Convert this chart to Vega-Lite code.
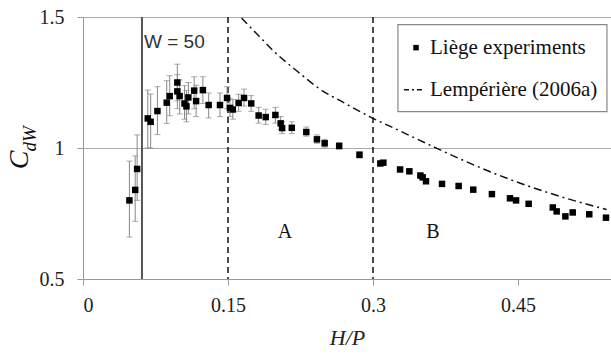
{
  "$schema": "https://vega.github.io/schema/vega-lite/v6.json",
  "width": 528,
  "height": 262,
  "autosize": "none",
  "padding": {"left": 83, "top": 17, "right": 0, "bottom": 79},
  "background": "white",
  "config": {
    "view": {"stroke": null},
    "font": "Liberation Serif, Times New Roman, serif",
    "axis": {
      "domainColor": "#999",
      "tickColor": "#999",
      "gridColor": "#aaa",
      "tickSize": 6
    }
  },
  "datasets": {
    "pts": [
      {"x": 0.048, "y": 0.80, "lo": 0.66, "hi": 0.95},
      {"x": 0.054, "y": 0.84, "lo": 0.72, "hi": 0.97},
      {"x": 0.056, "y": 0.92, "lo": 0.80, "hi": 1.05},
      {"x": 0.067, "y": 1.113, "lo": 1.0, "hi": 1.221},
      {"x": 0.070, "y": 1.10, "lo": 1.0, "hi": 1.206},
      {"x": 0.077, "y": 1.141, "lo": 1.051, "hi": 1.234},
      {"x": 0.0866, "y": 1.173, "lo": 1.094, "hi": 1.257},
      {"x": 0.0897, "y": 1.198, "lo": 1.123, "hi": 1.276},
      {"x": 0.0976, "y": 1.25, "lo": 1.18, "hi": 1.32},
      {"x": 0.0976, "y": 1.216, "lo": 1.15, "hi": 1.28},
      {"x": 0.100, "y": 1.198, "lo": 1.13, "hi": 1.26},
      {"x": 0.105, "y": 1.17, "lo": 1.11, "hi": 1.238},
      {"x": 0.107, "y": 1.159, "lo": 1.10, "hi": 1.22},
      {"x": 0.109, "y": 1.193, "lo": 1.13, "hi": 1.25},
      {"x": 0.115, "y": 1.219, "lo": 1.15, "hi": 1.272},
      {"x": 0.117, "y": 1.179, "lo": 1.12, "hi": 1.24},
      {"x": 0.124, "y": 1.221, "lo": 1.17, "hi": 1.272},
      {"x": 0.130, "y": 1.164, "lo": 1.115, "hi": 1.21},
      {"x": 0.1417, "y": 1.164, "lo": 1.12, "hi": 1.21},
      {"x": 0.149, "y": 1.191, "lo": 1.15, "hi": 1.234},
      {"x": 0.152, "y": 1.153, "lo": 1.12, "hi": 1.19},
      {"x": 0.155, "y": 1.147, "lo": 1.11, "hi": 1.185},
      {"x": 0.161, "y": 1.172, "lo": 1.14, "hi": 1.205},
      {"x": 0.1666, "y": 1.191, "lo": 1.16, "hi": 1.225},
      {"x": 0.174, "y": 1.170, "lo": 1.14, "hi": 1.20},
      {"x": 0.1817, "y": 1.124, "lo": 1.095, "hi": 1.155},
      {"x": 0.189, "y": 1.118, "lo": 1.09, "hi": 1.148},
      {"x": 0.199, "y": 1.126, "lo": 1.095, "hi": 1.155},
      {"x": 0.2045, "y": 1.094, "lo": 1.07, "hi": 1.12},
      {"x": 0.206, "y": 1.076, "lo": 1.055, "hi": 1.10},
      {"x": 0.216, "y": 1.077, "lo": 1.055, "hi": 1.10},
      {"x": 0.231, "y": 1.061, "lo": 1.045, "hi": 1.08},
      {"x": 0.242, "y": 1.033, "lo": 1.018, "hi": 1.05},
      {"x": 0.25, "y": 1.018, "lo": 1.003, "hi": 1.033},
      {"x": 0.265, "y": 1.008, "lo": 0.995, "hi": 1.02},
      {"x": 0.286, "y": 0.974, "lo": 0.962, "hi": 0.986},
      {"x": 0.3076, "y": 0.941, "lo": 0.935, "hi": 0.947},
      {"x": 0.3107, "y": 0.944, "lo": 0.938, "hi": 0.950},
      {"x": 0.328, "y": 0.918, "lo": 0.912, "hi": 0.924},
      {"x": 0.3376, "y": 0.911, "lo": 0.905, "hi": 0.917},
      {"x": 0.349, "y": 0.895, "lo": 0.889, "hi": 0.901},
      {"x": 0.3514, "y": 0.888, "lo": 0.882, "hi": 0.894},
      {"x": 0.3548, "y": 0.873, "lo": 0.867, "hi": 0.879},
      {"x": 0.3714, "y": 0.863, "lo": 0.858, "hi": 0.868},
      {"x": 0.3886, "y": 0.855, "lo": 0.85, "hi": 0.86},
      {"x": 0.4037, "y": 0.841, "lo": 0.836, "hi": 0.846},
      {"x": 0.423, "y": 0.824, "lo": 0.819, "hi": 0.829},
      {"x": 0.4417, "y": 0.808, "lo": 0.803, "hi": 0.813},
      {"x": 0.448, "y": 0.80, "lo": 0.795, "hi": 0.805},
      {"x": 0.461, "y": 0.787, "lo": 0.782, "hi": 0.792},
      {"x": 0.486, "y": 0.773, "lo": 0.768, "hi": 0.778},
      {"x": 0.490, "y": 0.758, "lo": 0.753, "hi": 0.763},
      {"x": 0.499, "y": 0.739, "lo": 0.734, "hi": 0.744},
      {"x": 0.5066, "y": 0.754, "lo": 0.749, "hi": 0.759},
      {"x": 0.5237, "y": 0.747, "lo": 0.742, "hi": 0.752},
      {"x": 0.541, "y": 0.734, "lo": 0.729, "hi": 0.739}
    ],
    "curve": [
      {"x": 0.164, "y": 1.496},
      {"x": 0.1865, "y": 1.41},
      {"x": 0.1986, "y": 1.365},
      {"x": 0.221, "y": 1.295},
      {"x": 0.245, "y": 1.225},
      {"x": 0.2693, "y": 1.174},
      {"x": 0.2969, "y": 1.119},
      {"x": 0.328, "y": 1.065},
      {"x": 0.3624, "y": 1.005},
      {"x": 0.397, "y": 0.947},
      {"x": 0.431, "y": 0.895},
      {"x": 0.466, "y": 0.848},
      {"x": 0.5, "y": 0.808},
      {"x": 0.5417, "y": 0.765}
    ]
  },
  "layer": [
    {
      "data": {"values": [{"x": 0.061}]},
      "mark": {"type": "rule", "color": "#555", "strokeWidth": 2},
      "encoding": {
        "x": {"field": "x", "type": "quantitative", "scale": {"domain": [0, 0.5462], "nice": false, "zero": false},
          "axis": {"values": [0, 0.15, 0.3, 0.45], "format": "~g", "grid": false, "title": "H/P",
            "labelFont": "Liberation Serif", "labelFontSize": 20, "labelColor": "#222", "labelPadding": 10,
            "titleFont": "Liberation Serif", "titleFontStyle": "italic", "titleFontWeight": "normal", "titleColor": "#222", "titleFontSize": 22, "titlePadding": 12}}
      }
    },
    {
      "data": {"values": [{"x": 0.15}, {"x": 0.3}]},
      "mark": {"type": "rule", "color": "#111", "strokeWidth": 1.5, "strokeDash": [6, 4]},
      "encoding": {"x": {"field": "x", "type": "quantitative"}}
    },
    {
      "data": {"name": "pts"},
      "mark": {"type": "errorbar", "ticks": {"size": 6, "color": "#888"}, "color": "#888", "thickness": 1},
      "encoding": {
        "x": {"field": "x", "type": "quantitative"},
        "y": {"field": "lo", "type": "quantitative", "scale": {"domain": [0.5, 1.5], "nice": false, "zero": false},
          "axis": {"values": [0.5, 1, 1.5], "format": "~g", "grid": true, "title": null, "domain": true,
            "labelFont": "Liberation Serif", "labelFontSize": 20, "labelColor": "#222", "labelPadding": 13}},
        "y2": {"field": "hi"}
      }
    },
    {
      "data": {"name": "pts"},
      "mark": {"type": "point", "shape": "square", "filled": true, "color": "#000", "size": 42, "opacity": 1},
      "encoding": {
        "x": {"field": "x", "type": "quantitative"},
        "y": {"field": "y", "type": "quantitative"}
      }
    },
    {
      "data": {"name": "curve"},
      "mark": {"type": "line", "color": "#111", "strokeWidth": 1.5, "strokeDash": [8, 4, 2, 4], "clip": true, "interpolate": "monotone"},
      "encoding": {
        "x": {"field": "x", "type": "quantitative"},
        "y": {"field": "y", "type": "quantitative"}
      }
    },
    {
      "data": {"values": [{"x1": 0.3258, "x2": 0.542, "y1": 1.4706, "y2": 1.1385}]},
      "mark": {"type": "rect", "fill": "white", "stroke": "#888", "strokeWidth": 1.2},
      "encoding": {
        "x": {"field": "x1", "type": "quantitative"},
        "x2": {"field": "x2"},
        "y": {"field": "y1", "type": "quantitative"},
        "y2": {"field": "y2"}
      }
    },
    {
      "data": {"values": [{"x": 0.3445, "y": 1.383}]},
      "mark": {"type": "point", "shape": "square", "filled": true, "color": "#000", "size": 30, "opacity": 1},
      "encoding": {
        "x": {"field": "x", "type": "quantitative"},
        "y": {"field": "y", "type": "quantitative"}
      }
    },
    {
      "data": {"values": [{"x": 0.332, "y": 1.2225}, {"x": 0.3527, "y": 1.2225}]},
      "mark": {"type": "line", "color": "#111", "strokeWidth": 1.5, "strokeDash": [5, 3, 2, 3]},
      "encoding": {
        "x": {"field": "x", "type": "quantitative"},
        "y": {"field": "y", "type": "quantitative"}
      }
    },
    {
      "data": {"values": [
        {"x": 0.359, "y": 1.383, "t": "Liège experiments"},
        {"x": 0.359, "y": 1.2225, "t": "Lempérière (2006a)"}
      ]},
      "mark": {"type": "text", "align": "left", "baseline": "middle", "font": "Liberation Serif", "fontSize": 21, "color": "#111"},
      "encoding": {
        "x": {"field": "x", "type": "quantitative"},
        "y": {"field": "y", "type": "quantitative"},
        "text": {"field": "t"}
      }
    },
    {
      "data": {"values": [{"x": 0.0631, "y": 1.405, "t": "W = 50"}]},
      "mark": {"type": "text", "align": "left", "baseline": "middle", "font": "Liberation Sans", "fontSize": 19, "color": "#333"},
      "encoding": {
        "x": {"field": "x", "type": "quantitative"},
        "y": {"field": "y", "type": "quantitative"},
        "text": {"field": "t"}
      }
    },
    {
      "data": {"values": [{"x": 0.209, "y": 0.68, "t": "A"}, {"x": 0.362, "y": 0.678, "t": "B"}]},
      "mark": {"type": "text", "align": "center", "baseline": "middle", "font": "Liberation Serif", "fontSize": 20, "color": "#111"},
      "encoding": {
        "x": {"field": "x", "type": "quantitative"},
        "y": {"field": "y", "type": "quantitative"},
        "text": {"field": "t"}
      }
    },
    {
      "data": {"values": [{"x": -0.065, "y": 0.955, "t": "C"}]},
      "mark": {"type": "text", "align": "center", "baseline": "middle", "angle": 270, "font": "Liberation Serif", "fontStyle": "italic", "fontSize": 28, "color": "#111", "clip": false},
      "encoding": {
        "x": {"field": "x", "type": "quantitative"},
        "y": {"field": "y", "type": "quantitative"},
        "text": {"field": "t"}
      }
    },
    {
      "data": {"values": [{"x": -0.055, "y": 1.035, "t": "dW"}]},
      "mark": {"type": "text", "align": "center", "baseline": "middle", "angle": 270, "font": "Liberation Serif", "fontStyle": "italic", "fontSize": 19, "color": "#111", "clip": false},
      "encoding": {
        "x": {"field": "x", "type": "quantitative"},
        "y": {"field": "y", "type": "quantitative"},
        "text": {"field": "t"}
      }
    }
  ]
}
